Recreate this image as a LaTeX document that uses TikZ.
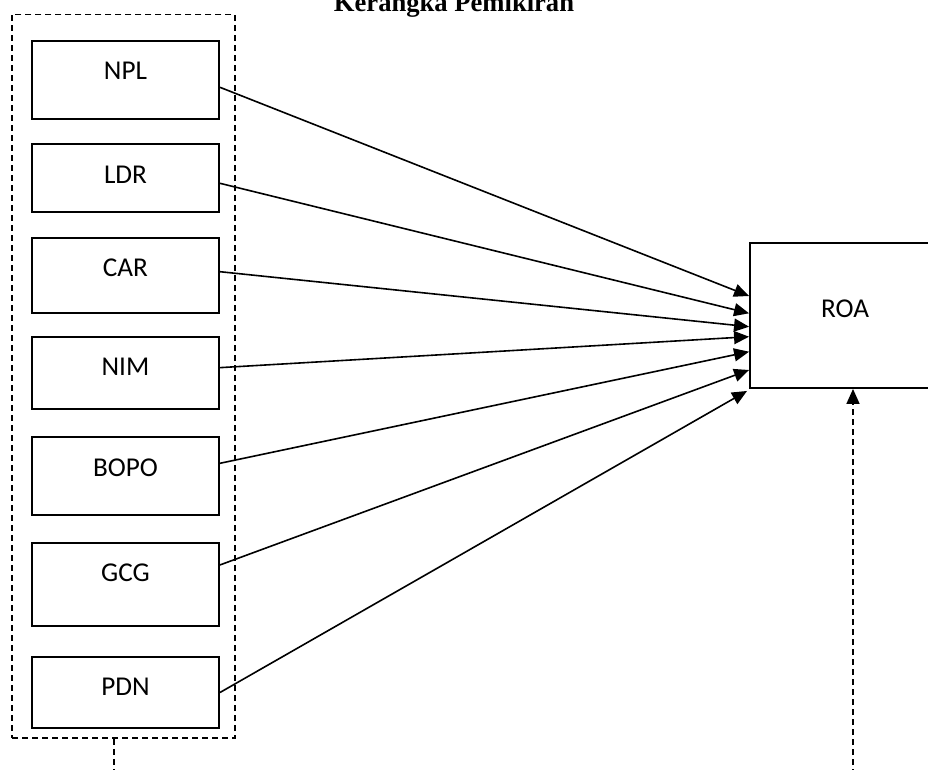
\documentclass[tikz,border=0pt]{standalone}
\usepackage{fontspec}
\setmainfont{Carlito}
\newfontfamily\titlefont{Liberation Serif}
\usetikzlibrary{arrows.meta}
\begin{document}
\begin{tikzpicture}[x=1pt,y=-1pt,
  box/.style={draw,line width=1.9pt,rectangle,inner sep=0pt,minimum width=187pt},
  lbl/.style={anchor=base,inner sep=0pt,font=\fontsize{27.2}{30}\selectfont},
  arr/.style={line width=1.6pt,-{Triangle[length=15pt,width=13pt]}},
  dsh/.style={line width=1.6pt,dash pattern=on 6pt off 4pt}]
\useasboundingbox (0,0) rectangle (928,770);
\fill[white] (0,0) rectangle (928,770);

\node[anchor=base,inner sep=0pt,font=\titlefont\bfseries\fontsize{26.6}{30}\selectfont] (title) at (454,12) {Kerangka Pemikiran};

\node[draw,dsh,rectangle,inner sep=0pt,minimum width=223pt,minimum height=723.3pt] (grp) at (123.5,376.35) {};

\node[box,minimum height=78pt] (npl) at (125.5,79.7) {};
\node[box,minimum height=68pt] (ldr) at (125.5,178) {};
\node[box,minimum height=75pt] (car) at (125.5,275.8) {};
\node[box,minimum height=72.3pt] (nim) at (125.5,372.85) {};
\node[box,minimum height=77.4pt] (bopo) at (125.5,476) {};
\node[box,minimum height=82.7pt] (gcg) at (125.5,584.35) {};
\node[box,minimum height=71pt] (pdn) at (125.5,692.5) {};

\node[lbl] (tnpl) at (125.5,79.3) {NPL};
\node[lbl] (tldr) at (125.5,183.3) {LDR};
\node[lbl] (tcar) at (125.5,276.7) {CAR};
\node[lbl] (tnim) at (125.5,375) {NIM};
\node[lbl] (tbopo) at (125.5,476) {BOPO};
\node[lbl] (tgcg) at (125.5,581.8) {GCG};
\node[lbl] (tpdn) at (125.5,695) {PDN};

\node[draw,line width=1.9pt,rectangle,inner sep=0pt,minimum width=190pt,minimum height=145pt] (roa) at (845,315.5) {};
\node[lbl] (troa) at (845,317) {ROA};

\draw[arr] ([yshift=-7.6pt]npl.east) -- ([yshift=19.5pt]roa.west);
\draw[arr] ([yshift=-5.3pt]ldr.east) -- ([yshift=2.2pt]roa.west);
\draw[arr] ([yshift=4.1pt]car.east) -- ([yshift=-11.2pt]roa.west);
\draw[arr] ([yshift=5.2pt]nim.east) -- ([yshift=-21.2pt]roa.west);
\draw[arr] ([yshift=12.7pt]bopo.east) -- ([yshift=-36.2pt]roa.west);
\draw[arr] ([yshift=19.4pt]gcg.east) -- ([yshift=-54.5pt]roa.west);
\draw[arr] (pdn.east) -- ([xshift=-2pt,yshift=-2pt]roa.south west);

\coordinate (s1) at (114,775);
\draw[dsh] ([xshift=-9.5pt]grp.south) -- (s1);
\coordinate (s2) at (853,775);
\draw[dsh,-{Triangle[length=15pt,width=13pt]}] (s2) -- (s2 |- roa.south);
\end{tikzpicture}
\end{document}
